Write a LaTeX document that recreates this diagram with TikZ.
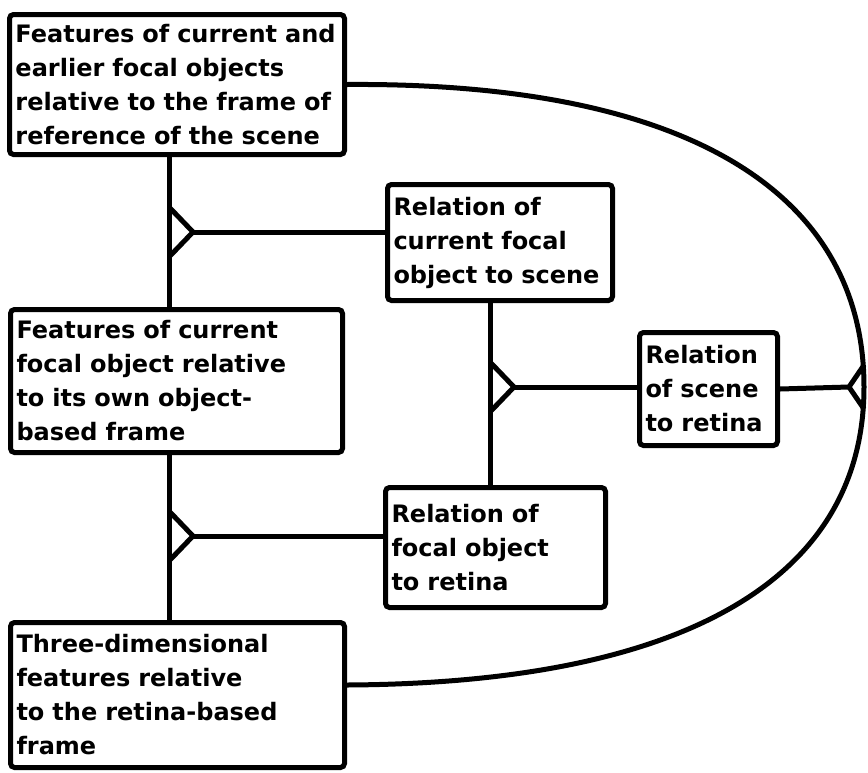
\documentclass[tikz,border=0pt]{standalone}
\usepackage{fontspec}
\setmainfont{DejaVu Sans}
\usetikzlibrary{calc}
\tikzset{
	box/.style={draw, line width=5pt, rounded corners=4pt, anchor=north west, align=left,
		inner xsep=6pt, inner ysep=4pt, font=\bfseries\fontsize{24}{34}\selectfont},
	link/.style={line width=5pt},
}
\begin{document}
\begin{tikzpicture}[x=1pt,y=-1pt]
	\useasboundingbox (0,0) rectangle (868,772);
	\node[box, text width=323pt, minimum width=335pt, minimum height=140pt] (earlier) at (7,12)
		{Features of current and\\earlier focal objects\\relative to the frame of\\reference of the scene};
	\node[box, text width=320pt, minimum width=332pt, minimum height=143pt] (current) at (8,307)
		{Features of current\\focal object relative\\to its own object-\\based frame};
	\node[box, text width=322pt, minimum width=334pt, minimum height=145pt] (retinal) at (8,620)
		{Three-dimensional\\features relative\\to the retina-based\\frame};
	\node[box, text width=213pt, minimum width=225pt, minimum height=116pt] (toscene) at (385,182)
		{Relation of\\current focal\\object to scene};
	\node[box, text width=208pt, minimum width=220pt, minimum height=120pt] (focret) at (383,485)
		{Relation of\\focal object\\to retina};
	\node[box, text width=126pt, minimum width=138pt, minimum height=113pt] (scnret) at (637,330)
		{Relation\\of scene\\to retina};
	\coordinate (fork1) at (169,232);
	\coordinate (fork2) at (490,387);
	\coordinate (fork3) at (169,536);
	\coordinate (fork4) at (849,387);
	\draw[link] (earlier.south -| fork1) -- (current.north -| fork1);
	\draw[link] (current.south -| fork3) -- (retinal.north -| fork3);
	\draw[link] (toscene.south -| fork2) -- (focret.north -| fork2);
	\foreach \f in {fork1,fork2,fork3}
		\draw[link] ($(\f)+(0,-25)$) -- ($(\f)+(24,0)$) -- ($(\f)+(0,25)$);
	\draw[link] ($(fork1)+(24,0)$) -- (toscene.west |- fork1);
	\draw[link] ($(fork2)+(24,0)$) -- (scnret.west |- fork2);
	\draw[link] ($(fork3)+(24,0)$) -- (focret.west |- fork3);
	\draw[link] (scnret.east) -- (fork4);
	\draw[link] ($(fork4)+(15,-22)$) -- (fork4) -- ($(fork4)+(15,22)$);
	\draw[link] (earlier.east) .. controls (700,82) and (864,200) .. (864,387)
		.. controls (864,570) and (700,683) .. ([yshift=10pt]retinal.east);
\end{tikzpicture}
\end{document}
